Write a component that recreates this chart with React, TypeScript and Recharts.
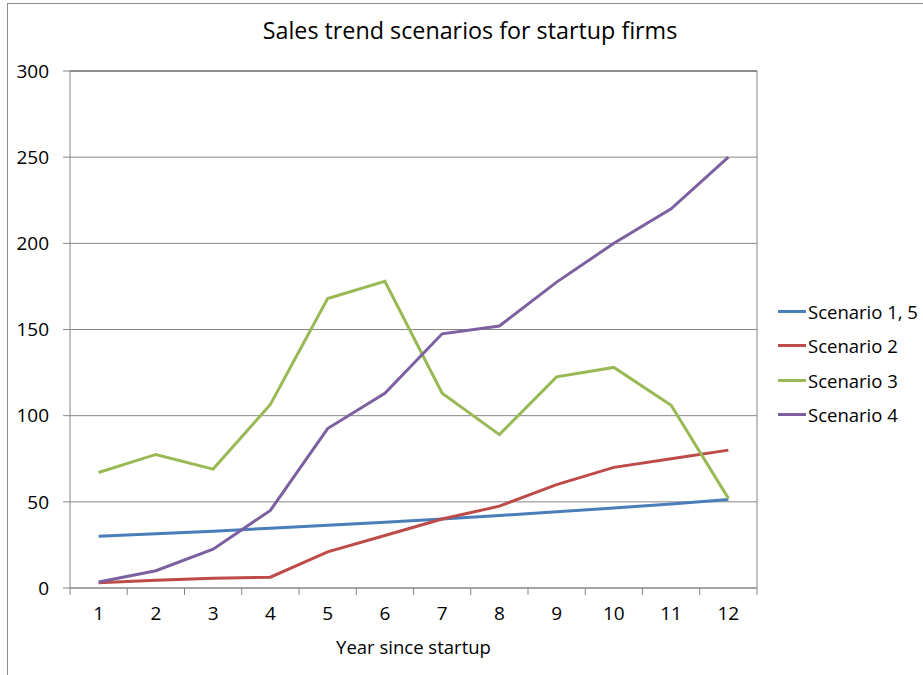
import { CartesianGrid, Legend, Line, LineChart, ReferenceLine, XAxis, YAxis } from "recharts";

const years = [1, 2, 3, 4, 5, 6, 7, 8, 9, 10, 11, 12];
const scenario15 = [30, 31.5, 33, 34.7, 36.4, 38.2, 40.1, 42.1, 44.2, 46.4, 48.8, 51.3];
const scenario2 = [3, 4.5, 5.7, 6.3, 21, 30.5, 40, 47.5, 60, 70, 75, 80];
const scenario3 = [67, 77.5, 69, 106.5, 168, 178, 113, 89, 122.5, 128, 106, 52];
const scenario4 = [3.5, 10, 22.5, 45, 92.5, 113, 147.5, 152, 177.5, 200, 220, 250];
const yTicks = [0, 50, 100, 150, 200, 250, 300];
// labels sit on the years, tick marks sit between them (Excel style)
const xTicks = [0.5, 1, 1.5, 2, 2.5, 3, 3.5, 4, 4.5, 5, 5.5, 6, 6.5, 7, 7.5, 8, 8.5, 9, 9.5, 10, 10.5, 11, 11.5, 12, 12.5];

const series = [
  { key: "s15", name: "Scenario 1, 5", color: "#4A7EBB", values: scenario15 },
  { key: "s2", name: "Scenario 2", color: "#BE4B48", values: scenario2 },
  { key: "s3", name: "Scenario 3", color: "#98B954", values: scenario3 },
  { key: "s4", name: "Scenario 4", color: "#7D60A0", values: scenario4 },
];

const data = years.map((year, i) => {
  const row: Record<string, number> = { year };
  series.forEach((s) => (row[s.key] = s.values[i]));
  return row;
});

const FONT = "'Open Sans', sans-serif";

function XTick({ x, y, payload }: any) {
  const v = payload.value as number;
  if (v % 1 !== 0) return <line x1={x} x2={x} y1={y} y2={y + 7} stroke="#868686" />;
  return (
    <text x={x} y={y + 27} textAnchor="middle" dominantBaseline="middle" fontSize={19} fill="#000" fontFamily={FONT}>
      {v}
    </text>
  );
}

function LegendBox() {
  return (
    <div style={{ fontFamily: FONT, fontSize: 18.5, color: "#000" }}>
      {series.map((s) => (
        <div key={s.key} style={{ display: "flex", alignItems: "center", height: 34.5 }}>
          <span style={{ width: 28, height: 3, background: s.color, display: "inline-block", marginRight: 2 }} />
          <span>{s.name}</span>
        </div>
      ))}
    </div>
  );
}

export default function App() {
  return (
    <div style={{ position: "absolute", left: 0, top: 0, width: 923, height: 675, background: "#fff", overflow: "hidden" }}>
      <div style={{ position: "absolute", left: 7, top: 3, right: -2, bottom: -2, border: "1px solid #8c8c8c" }} />
      <div
        style={{
          position: "absolute",
          left: 0,
          width: 940,
          top: 14,
          textAlign: "center",
          fontFamily: FONT,
          fontSize: 23.3,
          color: "#000",
        }}
      >
        Sales trend scenarios for startup firms
      </div>
      <LineChart
        width={923}
        height={675}
        data={data}
        margin={{ top: 71, right: 166, bottom: 0, left: 0 }}
        style={{ position: "absolute", left: 0, top: 0 }}
      >
        <CartesianGrid vertical={false} stroke="#868686" strokeWidth={1} />
        <XAxis
          dataKey="year"
          type="number"
          domain={[0.5, 12.5]}
          ticks={xTicks}
          interval={0}
          tick={<XTick />}
          tickLine={false}
          tickSize={0}
          tickMargin={0}
          height={87}
          stroke="#868686"
          label={{ value: "Year since startup", position: "insideBottom", offset: 21, fontSize: 18.5, fill: "#000", fontFamily: FONT }}
        />
        <YAxis
          domain={[0, 300]}
          ticks={yTicks}
          width={70}
          tickSize={7}
          tickMargin={14}
          stroke="#868686"
          tick={{ fontSize: 19, fill: "#000", fontFamily: FONT }}
        />
        <ReferenceLine y={300} stroke="#595959" />
        <ReferenceLine x={12.5} stroke="#868686" />
        {series.map((s) => (
          <Line
            key={s.key}
            dataKey={s.key}
            name={s.name}
            stroke={s.color}
            strokeWidth={3}
            dot={false}
            type="linear"
            isAnimationActive={false}
          />
        ))}
        <Legend
          layout="vertical"
          align="center"
          verticalAlign="middle"
          content={<LegendBox />}
          wrapperStyle={{ position: "absolute", left: 778, top: 294, width: 150 }}
        />
      </LineChart>
    </div>
  );
}
